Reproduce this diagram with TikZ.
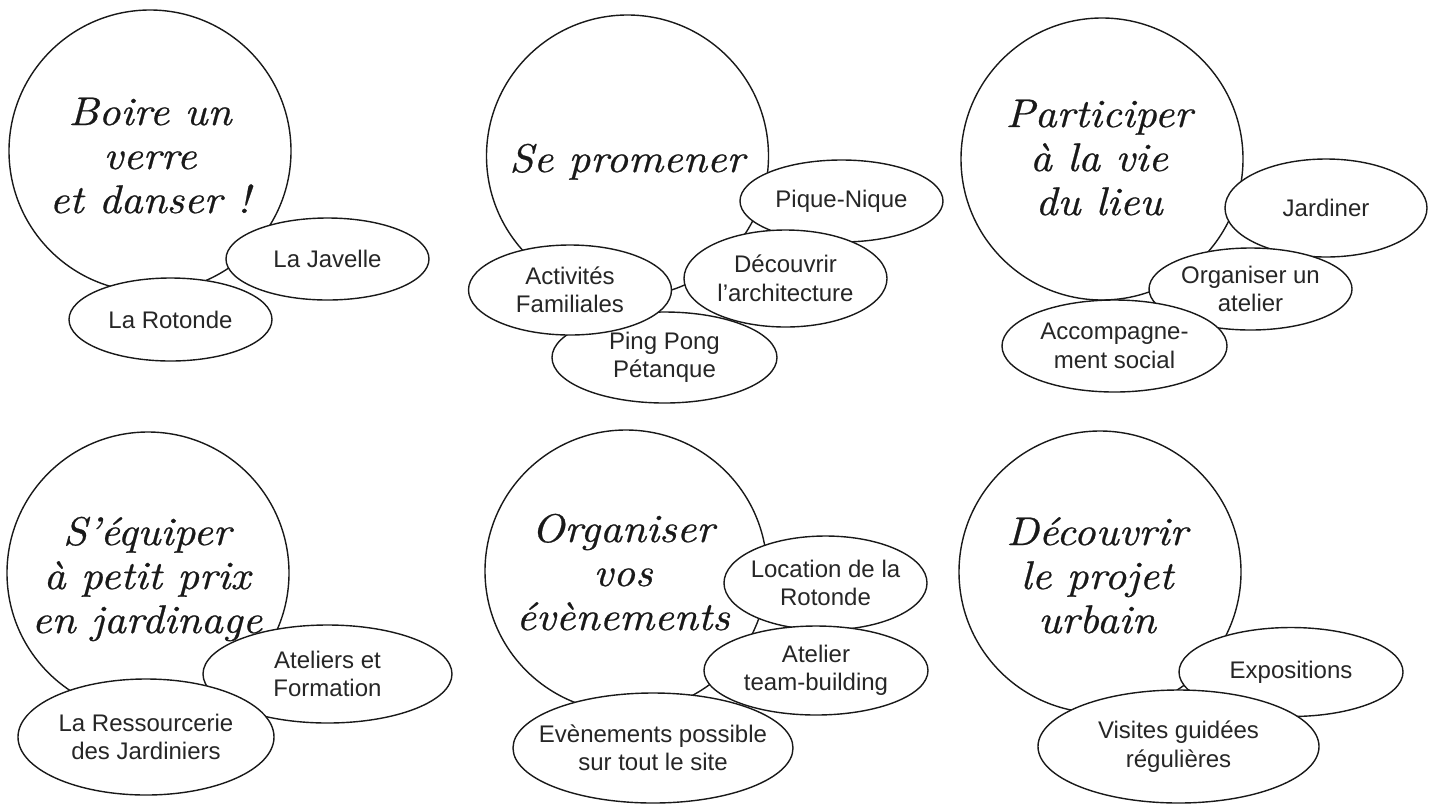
\documentclass[tikz,border=0pt]{standalone}
\usepackage{fontspec}
\newfontfamily\labelfont{Liberation Sans}
\newfontfamily\titlefont{lmroman10-italic.otf}[FakeStretch=1.07,FakeBold=0.6]
\usepackage{tikz}
\usetikzlibrary{calc}
\tikzset{
	bulle/.style={line width=1.4pt, draw=black!90, fill=white},
	titre/.style={align=center, inner sep=0pt, anchor=base, text=black!90, font=\titlefont\fontsize{40}{44}\selectfont},
	etiquette/.style={align=center, inner sep=0pt, text=black!85, font=\labelfont\fontsize{24}{28.5}\selectfont}
}
% ellipse bulle + texte centre
\def\ovale(#1)(#2:#3)#4#5{\draw[bulle] (#1) ellipse [x radius=#2, y radius=#3]; \node[etiquette] (#4) at (#1) {#5};}

\begin{document}
\begin{tikzpicture}[x=1pt, y=-1pt]
			%%%%% START %%%%%
			\useasboundingbox[fill=white] (0,0) rectangle (1434,804);
			
			% boire un verre
			\draw[bulle] (150,151) circle (141);
			\node[titre] (boire) at (150,213) {Boire un\\verre\\et danser !};
			\ovale(327.5,259)(101.5:41){javelle}{La Javelle}
			\ovale(170.5,319.5)(101.5:41.5){rotonde}{La Rotonde}
			
			% se promener
			\draw[bulle] (627.5,156) circle (141);
			\node[titre] (promener) at (627,172) {Se promener};
			\ovale(841.5,201)(101.5:41){piquenique}{Pique-Nique}
			\ovale(664.5,357.5)(112.5:45.5){pingpong}{Ping Pong\\Pétanque}
			\ovale(785.5,278.5)(101.5:48.5){archi}{Découvrir\\l’architecture}
			\ovale(570,290)(101.5:45){familiales}{Activités\\Familiales}
			
			% participer
			\draw[bulle] (1102,159) circle (141);
			\node[titre] (participer) at (1099,215) {Participer\\à la vie\\du lieu};
			\ovale(1326,208)(101:49){jardiner}{Jardiner}
			\ovale(1250.5,289)(101.5:41){atelierorg}{Organiser un\\atelier}
			\ovale(1114.5,346)(112.5:46){accomp}{Accompagne-\\ment social}
			
			% s'equiper
			\draw[bulle] (148,573) circle (141);
			\node[titre] (equiper) at (147,633) {S’équiper\\à petit prix\\en jardinage};
			\ovale(327.5,674)(124.5:49){ateliers}{Ateliers et\\Formation}
			\ovale(146,737)(128:58){ressourcerie}{La Ressourcerie\\des Jardiniers}
			
			% organiser
			\draw[bulle] (626,571) circle (141);
			\node[titre] (organiser) at (623,630) {Organiser\\vos\\évènements};
			\ovale(825.5,583)(101.5:47){location}{Location de la\\Rotonde}
			\ovale(816,670.5)(112:44.5){teambuilding}{Atelier\\team-building}
			\ovale(653,748)(140:55){evenements}{Evènements possible\\sur tout le site}
			
			% decouvrir
			\draw[bulle] (1100,572) circle (141);
			\node[titre] (decouvrir) at (1097,633) {Découvrir\\le projet\\urbain};
			\ovale(1291,672)(112:44.5){expos}{Expositions}
			\ovale(1178.5,746.5)(140.5:56.5){visites}{Visites guidées\\régulières}
			
			%%%%% END %%%%%
\end{tikzpicture}
\end{document}
